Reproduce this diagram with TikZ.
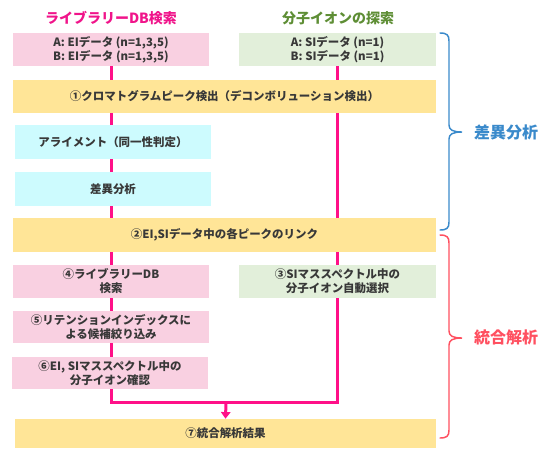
\documentclass[tikz,border=0pt]{standalone}
\usepackage{fontspec}
\newfontfamily\jp{Noto Sans CJK JP}
\usetikzlibrary{arrows.meta,backgrounds}
\definecolor{pinkfill}{HTML}{F9D0E1}
\definecolor{greenfill}{HTML}{E2EFDA}
\definecolor{yellowfill}{HTML}{FFE597}
\definecolor{cyanfill}{HTML}{CDFBFE}
\definecolor{lineink}{HTML}{FF1088}
\definecolor{titlepink}{HTML}{F0148A}
\definecolor{titlegreen}{HTML}{5E8E35}
\definecolor{braceblue}{HTML}{3A8ACB}
\definecolor{bracered}{HTML}{FF5060}
\definecolor{textink}{HTML}{383838}
\begin{document}
\begin{tikzpicture}[x=0.75pt,y=-0.75pt,
  box/.style={inner sep=0pt, align=center, text=textink, font=\jp\bfseries\fontsize{8.6}{10.5}\selectfont, minimum height=24.75pt},
  pbox/.style={box, fill=pinkfill, minimum width=147pt},
  gbox/.style={box, fill=greenfill, minimum width=147.75pt},
  cbox/.style={box, fill=cyanfill, minimum width=147pt, minimum height=25.5pt},
  ybox/.style={box, fill=yellowfill, minimum width=317.25pt},
  flow/.style={draw=lineink, line width=2.25pt},
  title/.style={font=\jp\bfseries\fontsize{10.5}{12}\selectfont},
  bracelab/.style={font=\jp\bfseries\fontsize{12}{14}\selectfont},
  bracepath/.style={line width=1.1pt, line cap=round}]
\useasboundingbox (0,0) rectangle (550,451);
\node[title, text=titlepink] (t1) at (111,18) {ライブラリーDB検索};
\node[title, text=titlegreen] (t2) at (338,18) {分子イオンの探索};
\node[pbox] (A) at (111,49.5) {A: EIデータ (n=1,3,5)\\B: EIデータ (n=1,3,5)};
\node[gbox] (G) at (337.5,49.5) {A: SIデータ (n=1)\\B: SIデータ (n=1)};
\node[ybox] (Y1) at (224.5,96.5) {①クロマトグラムピーク検出（デコンボリューション検出）};
\node[cbox] (C1) at (113,142) {アライメント（同一性判定）};
\node[cbox] (C2) at (113,189) {差異分析};
\node[ybox, minimum height=25.5pt] (Y2) at (224.5,235) {②EI,SIデータ中の各ピークのリンク};
\node[pbox] (P4) at (111,281.5) {④ライブラリーDB\\検索};
\node[gbox] (G3) at (337.5,281.5) {③SIマススペクトル中の\\分子イオン自動選択};
\node[pbox, minimum height=24pt] (P5) at (111,327) {⑤リテンションインデックスに\\よる候補絞り込み};
\node[pbox, minimum height=24pt] (P6) at (110,373) {⑥EI, SIマススペクトル中の\\分子イオン確認};
\node[ybox, minimum width=315.75pt, minimum height=21.75pt] (Y7) at (225.5,433.5) {⑦統合解析結果};
\coordinate (jl) at (111,402);
\coordinate (jr) at (337.5,402);
\coordinate (jm) at (226,402);
\begin{scope}[on background layer]
\draw[flow] (A.south) -- (A.south |- Y1.north);
\draw[flow] (A.south |- Y1.south) -- (A.south |- C1.north);
\draw[flow] (A.south |- C1.south) -- (A.south |- C2.north);
\draw[flow] (A.south |- C2.south) -- (A.south |- Y2.north);
\draw[flow] (A.south |- Y2.south) -- (P4.north);
\draw[flow] (P4.south) -- (P5.north);
\draw[flow] (P5.south) -- (A.south |- P6.north);
\draw[flow] (A.south |- P6.south) -- (jl) -- (jr) -- (G3.south);
\draw[flow] (G.south) -- (G.south |- Y1.north);
\draw[flow] (G.south |- Y1.south) -- (G.south |- Y2.north);
\draw[flow] (G.south |- Y2.south) -- (G3.north);
\draw[flow, -{Triangle[width=7pt,length=5pt]}] (jm) -- (Y7.north);
\end{scope}
\draw[bracepath, draw=braceblue] (440,33) .. controls (447,33) and (449,35) .. (449,41) -- (449,125)
  .. controls (449,130) and (453,132) .. (462,132)
  .. controls (453,132) and (449,134) .. (449,139) -- (449,222)
  .. controls (449,228) and (447,230) .. (440,230);
\draw[bracepath, draw=bracered] (440,235) .. controls (447,235) and (449,237) .. (449,243) -- (449,331)
  .. controls (449,336) and (453,338) .. (462,338)
  .. controls (453,338) and (449,340) .. (449,345) -- (449,430)
  .. controls (449,436) and (447,438) .. (440,438);
\node[bracelab, text=braceblue] (L1) at (506,132) {差異分析};
\node[bracelab, text=bracered] (L2) at (506,337) {統合解析};
\end{tikzpicture}
\end{document}
